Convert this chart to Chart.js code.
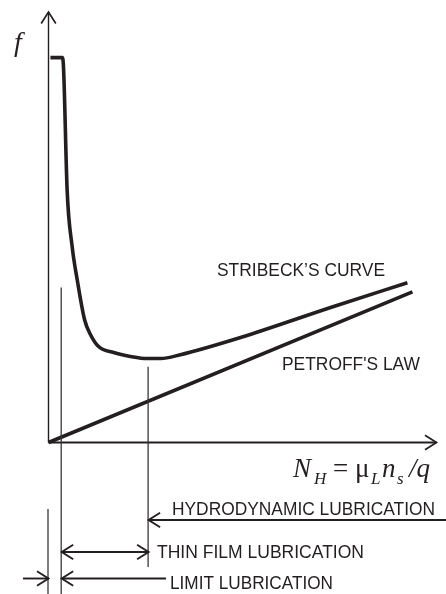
<!DOCTYPE html>
<html>
<head>
<meta charset="utf-8">
<script src="https://cdn.jsdelivr.net/npm/chart.js@4"></script>
<style>
  html, body { margin: 0; padding: 0; background: #fff; }
  canvas { display: block; }
</style>
</head>
<body>
<canvas id="stribeck" width="446" height="594"></canvas>
<script>
// Stribeck curve: friction coefficient f against bearing number N_H
const stribeckX = [0.05, 0.36, 0.39, 0.48, 0.61, 0.74, 0.93, 1.08, 1.29, 1.68, 2.11, 2.55, 2.89, 3.40, 4.95, 7.35, 9.25];
const stribeckY = [8.94, 8.94, 8.65, 5.87, 4.55, 3.78, 2.85, 2.51, 2.23, 2.09, 2.00, 1.95, 1.95, 2.04, 2.44, 3.16, 3.71];

// Petroff's law: straight line through the origin
const petroffX = [0, 9.38];
const petroffY = [0, 3.50];

// lubrication regime boundaries on the N_H axis
const regimeBounds = [0, 0.34, 2.58];
const boundTops = [null, 3.6, 1.76];

const INK = '#231f20';

function arrowHead(ctx, x, y, dir) {
    ctx.beginPath();
    ctx.moveTo(x - dir * 11.5, y - 7.3);
    ctx.lineTo(x, y);
    ctx.lineTo(x - dir * 11.5, y + 7.3);
    ctx.stroke();
}

function hArrow(ctx, x1, x2, y, headLeft, headRight) {
    ctx.beginPath();
    ctx.moveTo(x1, y);
    ctx.lineTo(x2, y);
    ctx.stroke();
    if (headLeft) arrowHead(ctx, x1, y, -1);
    if (headRight) arrowHead(ctx, x2, y, 1);
}

// axes with open arrow heads, under the curves
const axesPlugin = {
    id: 'axesPlugin',
    beforeDatasetsDraw(chart) {
        const { ctx, chartArea: a, scales: { x, y } } = chart;
        const ox = x.getPixelForValue(0), oy = y.getPixelForValue(0);
        ctx.save();
        ctx.strokeStyle = INK;
        ctx.lineWidth = 1.4;
        ctx.beginPath();
        ctx.moveTo(ox, oy);
        ctx.lineTo(ox, a.top);
        ctx.stroke();
        ctx.lineWidth = 1.9;
        ctx.beginPath();
        ctx.moveTo(ox, oy);
        ctx.lineTo(a.right, oy);
        ctx.stroke();
        ctx.lineWidth = 1.7;
        ctx.beginPath();
        ctx.moveTo(ox - 7.3, a.top + 11.5);
        ctx.lineTo(ox, a.top);
        ctx.lineTo(ox + 7.3, a.top + 11.5);
        ctx.stroke();
        arrowHead(ctx, a.right, oy, 1);
        ctx.restore();
    },
    afterDraw(chart) {
        const { ctx, scales: { x, y } } = chart;
        const bx = regimeBounds.map(v => x.getPixelForValue(v));
        ctx.save();
        ctx.strokeStyle = '#3a3637';
        ctx.lineWidth = 1.3;

        // regime boundary lines
        const spans = [[509, 594], [y.getPixelForValue(boundTops[1]), 594], [y.getPixelForValue(boundTops[2]), 567]];
        bx.forEach((px, i) => {
            ctx.beginPath();
            ctx.moveTo(px - 0.5, spans[i][0]);
            ctx.lineTo(px - 0.5, spans[i][1]);
            ctx.stroke();
        });

        // regime arrows
        ctx.strokeStyle = INK;
        ctx.lineWidth = 1.9;
        hArrow(ctx, bx[2], 450, 520, true, false);
        hArrow(ctx, bx[1], bx[2], 552, true, true);
        hArrow(ctx, 23, bx[0], 578.5, false, true);
        hArrow(ctx, bx[1], 166, 578.5, true, false);

        // labels
        ctx.fillStyle = INK;
        ctx.textBaseline = 'alphabetic';
        ctx.font = '18.5px "Liberation Sans", Arial, sans-serif';
        ctx.fillText('STRIBECK\u2019S CURVE', 217, 276, 168);
        ctx.fillText("PETROFF'S LAW", 282, 369.5, 138);
        ctx.fillText('HYDRODYNAMIC LUBRICATION', 172, 514.5, 263);
        ctx.fillText('THIN FILM LUBRICATION', 157, 557.5, 207);
        ctx.fillText('LIMIT LUBRICATION', 170, 588.5, 163);

        // axis names
        const serif = '"Liberation Serif", "Times New Roman", serif';
        ctx.font = 'italic 28px ' + serif;
        ctx.fillText('f', 14, 51);
        const formula = [
            ['N', 293, 477, 'italic 27px '],
            ['H', 314, 484, 'italic 17px '],
            ['=', 333, 477, '27px '],
            ['\u03bc', 355, 477, '27px '],
            ['L', 371, 484, 'italic 17px '],
            ['n', 382, 477, 'italic 27px '],
            ['s', 397, 484, 'italic 17px '],
            ['/q', 409, 477, 'italic 27px ']
        ];
        formula.forEach(([t, px, py, f]) => {
            ctx.font = f + serif;
            ctx.fillText(t, px, py);
        });
        ctx.restore();
    }
};

const ctx = document.getElementById('stribeck').getContext('2d');
new Chart(ctx, {
    type: 'scatter',
    data: {
        datasets: [{
            label: "Stribeck's curve",
            data: stribeckX.map((v, i) => ({ x: v, y: stribeckY[i] })),
            showLine: true,
            borderColor: INK,
            borderWidth: 3.6,
            cubicInterpolationMode: 'monotone',
            pointRadius: 0,
            clip: false
        }, {
            label: "Petroff's law",
            data: petroffX.map((v, i) => ({ x: v, y: petroffY[i] })),
            showLine: true,
            borderColor: INK,
            borderWidth: 3.6,
            pointRadius: 0,
            clip: false
        }]
    },
    options: {
        responsive: false,
        animation: false,
        layout: { padding: { left: 48.5, top: 12, right: 9.5, bottom: 151.5 } },
        scales: {
            x: { type: 'linear', min: 0, max: 10, display: false },
            y: { type: 'linear', min: 0, max: 10, display: false }
        },
        plugins: {
            legend: { display: false },
            tooltip: { enabled: false }
        }
    },
    plugins: [axesPlugin]
});
</script>
</body>
</html>
